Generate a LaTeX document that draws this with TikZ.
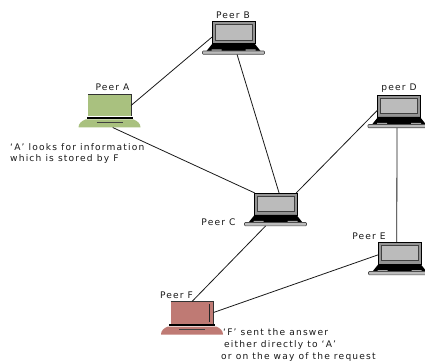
\documentclass[tikz,border=0pt]{standalone}
\usepackage{fontspec}
\setmainfont[LetterSpace=13]{DejaVu Sans}
\definecolor{lapgreen}{HTML}{A9C17F}
\definecolor{lapred}{HTML}{BF7A74}
\definecolor{lapgrey}{HTML}{BBBBBB}
\definecolor{inkc}{HTML}{1A1A1A}
\tikzset{
  x=1pt,y=-1pt,
  link/.style={draw=inkc,line width=0.8pt},
  peerlabel/.style={font=\fontsize{9.1}{11}\selectfont,text=inkc,inner sep=0pt,anchor=center},
  note/.style={font=\fontsize{9.1}{12}\selectfont,text=inkc,inner sep=0pt,anchor=west},
  screenbox/.style={rectangle,minimum width=43pt,minimum height=22pt,inner sep=0pt,outer sep=0pt},
  basebox/.style={rectangle,minimum width=62pt,minimum height=11pt,inner sep=0pt,outer sep=0pt},
  pics/greylaptop/.style={code={
    \node[screenbox,draw=black,fill=gray!85,line width=0.7pt] (-s) at (0,0) {};
    \node[basebox] (-b) at (0,16.5) {};
    \draw[fill=lapgrey,draw=black!75,line width=0.7pt] (-18.5,-8) rectangle (18.5,7.5);
    \fill[black] (-21,11) -- (21,11) -- (27,18.5) -- (-27,18.5) -- cycle;
    \fill[gray!70] (-22,17) rectangle (-12,18.5) (12,17) rectangle (22,18.5);
    \draw[fill=lapgrey,draw=black!70,line width=0.6pt,rounded corners=0.8pt] (-31,18.5) rectangle (31,21.8);
  }},
  pics/colourlaptop/.style={code={
    \node[screenbox,fill=#1] (-s) at (0,0) {};
    \node[basebox] (-b) at (0,16.5) {};
    \draw[black!80,line width=0.5pt] (-21.5,-11) -- (21.5,-11) -- (21.5,11);
    \fill[black] (-23,11.3) rectangle (23,13.3);
    \fill[#1] (-24,14) -- (24,14) .. controls (28,15.5) and (31,18) .. (31,22) -- (-31,22) .. controls (-31,18) and (-28,15.5) .. (-24,14) -- cycle;
    \draw[black!75,line width=0.7pt] (-13,16.5) -- (13,16.5);
  }},
}
\begin{document}
\begin{tikzpicture}
  \useasboundingbox (0,0) rectangle (425,363);
  \clip (0,0) rectangle (425,363);
  \fill[white] (0,0) rectangle (425,363);

  \pic (A) at (109.5,105.5) {colourlaptop=lapgreen};
  \pic (B) at (233.5,32.5) {greylaptop};
  \pic (C) at (275.5,204) {greylaptop};
  \pic (D) at (399,106) {greylaptop};
  \pic (E) at (399.5,253) {greylaptop};
  \pic (F) at (192,312.5) {colourlaptop=lapred};
  \draw[black!85,line width=1pt] (209,304) -- (209,322);

  \draw[link] (A-s.east) -- (B-s.192);
  \draw[link] (B-b.303) -- (C-s.72);
  \draw[link] (A-b.300) -- (C-s.152);
  \draw[link] (C-s.28) -- (D-s.191);
  \draw[link] (D-b.250) -- (E-s.104);
  \draw[link] (C-b.209) -- (F-s.north);
  \draw[link] (E-s.185) -- (F-s.east);

  \node[peerlabel] (la) at (112.5,87) {Peer A};
  \node[peerlabel] (lb) at (233,15) {Peer B};
  \node[peerlabel] (lc) at (218.5,222) {Peer C};
  \node[peerlabel] (ld) at (399,88) {peer D};
  \node[peerlabel] (le) at (369,236) {Peer E};
  \node[peerlabel] (lf) at (176.5,295) {Peer F};

  \node[note] (n1) at (10,147) {‘A’ looks for information};
  \node[note] (n2) at (10,159) {which is stored by F};
  \node[note] (n3) at (223,332) {‘F’ sent the answer};
  \node[note] (n4) at (224,345) {either directly to ‘A’};
  \node[note] (n5) at (221,357) {or on the way of the request};
\end{tikzpicture}
\end{document}
